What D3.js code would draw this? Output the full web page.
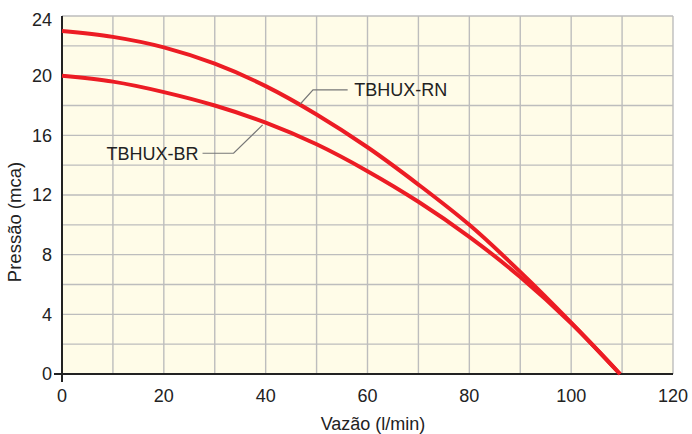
<!DOCTYPE html>
<html>
<head>
<meta charset="utf-8">
<script src="https://cdn.jsdelivr.net/npm/d3@7"></script>
<style>
  body { margin: 0; background: #fff; }
  svg { display: block; font-family: "Liberation Sans", Arial, sans-serif; }
</style>
</head>
<body>
<svg id="chart" width="692" height="434"></svg>
<script>
// flow (l/min) vs pressure (mca)
const vazao = [0, 10, 20, 30, 40, 50, 60, 70, 80, 90, 100, 109.6];
const pressaoRN = [23, 22.6, 21.9, 20.8, 19.3, 17.4, 15.2, 12.7, 10.0, 6.85, 3.45, 0];
const pressaoBR = [20, 19.6, 18.9, 18.0, 16.85, 15.4, 13.6, 11.55, 9.2, 6.5, 3.4, 0];

const xTicks = [0, 20, 40, 60, 80, 100, 120];
const yTicks = [0, 4, 8, 12, 16, 20, 24];

// labels with leader lines: curve point, elbow, text anchor (data units)
const labels = [
  { name: "TBHUX-RN", pt: [46.8, 18.1], elbow: [49.3, 19.05], text: [57.4, 19.05], anchor: "start" },
  { name: "TBHUX-BR", pt: [39.4, 16.7], elbow: [33.7, 14.8], text: [26.8, 14.8], anchor: "end" }
];

const svg = d3.select("#chart");
const margin = { left: 62, right: 19, top: 16, bottom: 60 };
const W = 692, H = 434;

const x = d3.scaleLinear().domain([0, 120]).range([margin.left, W - margin.right]);
const y = d3.scaleLinear().domain([0, 24]).range([H - margin.bottom, margin.top]);

// plot background
svg.append("rect")
  .attr("x", x(0)).attr("y", y(24))
  .attr("width", x(120) - x(0)).attr("height", y(0) - y(24))
  .attr("fill", "#fffce8");

// grid every 10 / every 2
const grid = svg.append("g").attr("stroke", "#bdbdbd").attr("stroke-width", 1.4);
grid.selectAll("line.v").data(d3.range(10, 121, 10)).join("line")
  .attr("x1", d => x(d)).attr("x2", d => x(d))
  .attr("y1", y(0)).attr("y2", y(24));
grid.selectAll("line.h").data(d3.range(2, 25, 2)).join("line")
  .attr("x1", x(0)).attr("x2", x(120))
  .attr("y1", d => y(d)).attr("y2", d => y(d));

// axis lines, crossing a little past the origin
svg.append("line")
  .attr("x1", x(0)).attr("x2", x(0))
  .attr("y1", y(24)).attr("y2", y(0) + 8)
  .attr("stroke", "#222").attr("stroke-width", 2);
svg.append("line")
  .attr("x1", x(0) - 8).attr("x2", x(120))
  .attr("y1", y(0)).attr("y2", y(0))
  .attr("stroke", "#222").attr("stroke-width", 2);

// tick labels (top one sits a bit lower so it is not clipped)
svg.append("g").selectAll("text").data(yTicks).join("text")
  .attr("x", x(0) - 10).attr("y", d => d === 24 ? y(d) + 4 : y(d))
  .attr("dy", "0.35em")
  .attr("text-anchor", "end")
  .attr("font-size", 18).attr("fill", "#222")
  .text(d => d);
svg.append("g").selectAll("text").data(xTicks).join("text")
  .attr("x", d => x(d)).attr("y", y(0) + 28)
  .attr("text-anchor", "middle")
  .attr("font-size", 18).attr("fill", "#222")
  .text(d => d);

// axis titles
svg.append("text")
  .attr("transform", `translate(21,222) rotate(-90)`)
  .attr("text-anchor", "middle")
  .attr("font-size", 18.5).attr("fill", "#222")
  .text("Pressão (mca)");
svg.append("text")
  .attr("x", 373).attr("y", 430)
  .attr("text-anchor", "middle")
  .attr("font-size", 18).attr("fill", "#222")
  .text("Vazão (l/min)");

// curves
const line = d3.line()
  .x(d => x(d[0])).y(d => y(d[1]))
  .curve(d3.curveCatmullRom.alpha(0.5));

[pressaoRN, pressaoBR].forEach(series => {
  svg.append("path")
    .datum(vazao.map((v, i) => [v, series[i]]))
    .attr("d", line)
    .attr("fill", "none")
    .attr("stroke", "#ec1c24")
    .attr("stroke-width", 4);
});

// labels
labels.forEach(l => {
  const start = l.anchor === "start" ? l.text[0] - 1.3 : l.text[0] + 0.8;
  svg.append("polyline")
    .attr("points", [l.pt, l.elbow, [start, l.text[1]]].map(p => [x(p[0]), y(p[1])].join(",")).join(" "))
    .attr("fill", "none")
    .attr("stroke", "#777")
    .attr("stroke-width", 1.2);
  svg.append("text")
    .attr("x", x(l.text[0])).attr("y", y(l.text[1]))
    .attr("dy", "0.35em")
    .attr("text-anchor", l.anchor)
    .attr("font-size", 18).attr("fill", "#222")
    .text(l.name);
});
</script>
</body>
</html>
